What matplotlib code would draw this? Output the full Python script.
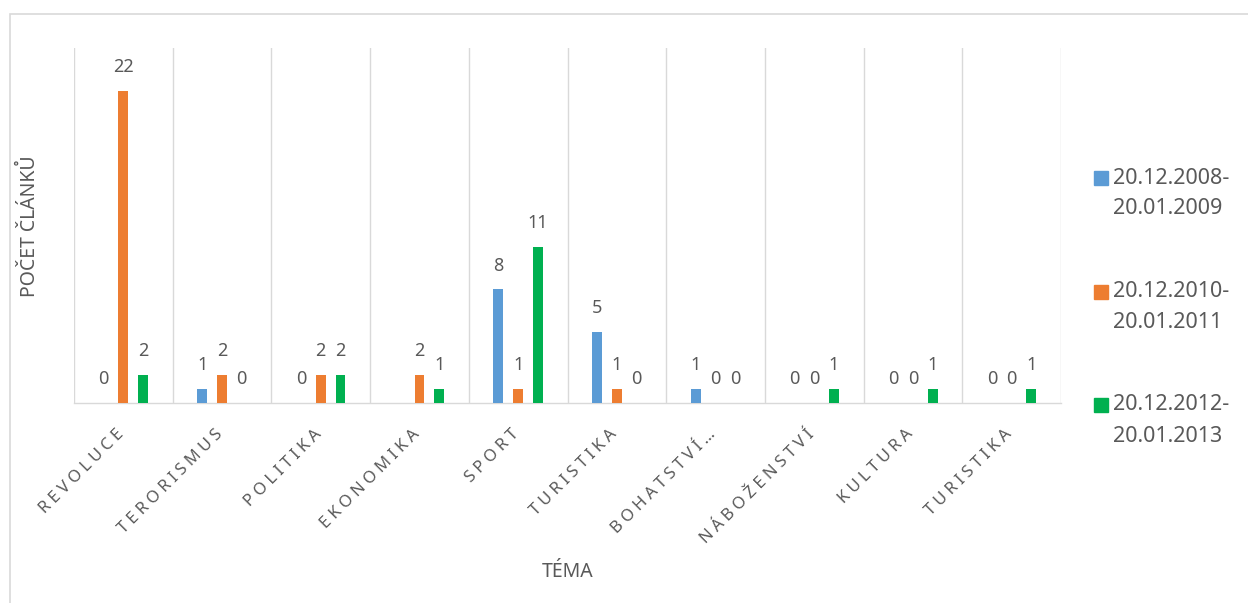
import numpy as np
import matplotlib.pyplot as plt
from matplotlib.patches import Rectangle
from matplotlib.transforms import ScaledTranslation

# data
temata = ['REVOLUCE', 'TERORISMUS', 'POLITIKA', 'EKONOMIKA', 'SPORT',
          'TURISTIKA', 'BOHATSTVÍ…', 'NÁBOŽENSTVÍ', 'KULTURA', 'TURISTIKA']
obdobi = ['20.12.2008-\n20.01.2009', '20.12.2010-\n20.01.2011', '20.12.2012-\n20.01.2013']
r2009 = [0, 1, 0, np.nan, 8, 5, 1, 0, 0, 0]
r2011 = [22, 2, 2, 2, 1, 1, 0, 0, 0, 0]
r2013 = [2, 0, 2, 1, 11, 0, 0, 1, 1, 1]
barvy = ['#5B9BD5', '#ED7D31', '#00B050']

plt.rcParams['font.family'] = ['Noto Sans', 'DejaVu Sans']
seda = '#595959'
mrizka = '#D9D9D9'

W, H = 1248, 603
fig = plt.figure(figsize=(W / 100, H / 100), dpi=100)
ax = fig.add_axes([74 / W, 1 - 403 / H, (1061 - 74) / W, (403 - 48) / H])

# ramecek grafu
fig.patches.append(Rectangle((10 / W, -0.1), 1.2, 1.1 - 14 / H, transform=fig.transFigure,
                             fill=False, edgecolor=mrizka, linewidth=1.2))

x = np.arange(len(temata))
serie = [r2009, r2011, r2013]
for i, (vals, c) in enumerate(zip(serie, barvy)):
    pos = x + (i - 1) * 0.2
    vals = np.array(vals, dtype=float)
    ax.bar(pos, np.nan_to_num(vals), width=0.1, color=c, zorder=3)
    for px, v in zip(pos, vals):
        if np.isnan(v):
            continue
        ax.annotate(f'{int(v)}', (px, v), xytext=(0, 17), textcoords='offset points',
                    ha='center', va='center', fontsize=13, color=seda)

# svisle cary mezi kategoriemi
for b in np.arange(-0.5, len(temata), 1.0):
    ax.axvline(b, color=mrizka, linewidth=1, zorder=1)

ax.set_xlim(-0.5, len(temata) - 0.5)
ax.set_ylim(0, 25)
ax.set_yticks([])
for s in ['top', 'right', 'left']:
    ax.spines[s].set_visible(False)
ax.spines['bottom'].set_color(mrizka)
ax.spines['bottom'].set_linewidth(1)

ax.set_xticks(x)
ax.set_xticklabels(['\u2005'.join(t) for t in temata], rotation=45, ha='right', va='center',
                   rotation_mode='anchor', fontsize=12, color=seda)
ax.tick_params(axis='x', length=0, pad=21)
posun = ScaledTranslation(-0.02, 0, fig.dpi_scale_trans)
for lab in ax.get_xticklabels():
    lab.set_transform(lab.get_transform() + posun)

fig.text(30 / W, 1 - 226 / H, 'POČET ČLÁNKŮ', rotation=90, ha='center', va='center',
         fontsize=14, color=seda)
fig.text(568 / W, 1 - 572 / H, 'TÉMA', ha='center', va='center', fontsize=14, color=seda)

# legenda
for i, (lab, c) in enumerate(zip(obdobi, barvy)):
    y0 = 178 + i * 113.5
    fig.patches.append(Rectangle((1094 / W, 1 - (y0 + 7) / H), 14 / W, 14 / H,
                                 transform=fig.transFigure, color=c))
    for j, radek in enumerate(lab.split('\n')):
        fig.text(1113 / W, 1 - (y0 + j * 31) / H, radek, ha='left', va='center',
                 fontsize=15.5, color=seda)

fig.savefig('out.png', dpi=100)
